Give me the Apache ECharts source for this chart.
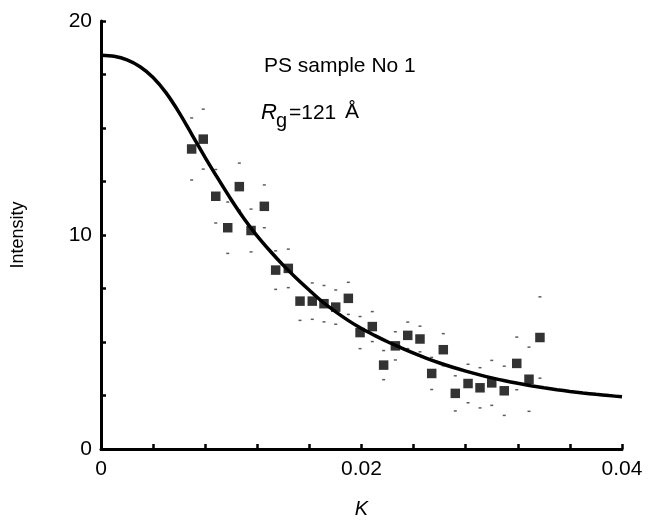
<!DOCTYPE html>
<html>
<head>
<meta charset="utf-8">
<script src="https://cdn.jsdelivr.net/npm/echarts@6/dist/echarts.min.js"></script>
<style>
html,body{margin:0;padding:0;background:#fff;}
#c{width:649px;height:524px;}
</style>
</head>
<body>
<div id="c"></div>
<script>
// Measured points: K (x) and intensity (y)
const pointK = [0.00696,0.00785,0.00881,0.00973,0.01062,0.01152,0.01254,0.01341,0.01438,0.01528,
                0.01622,0.01712,0.01802,0.01899,0.01989,0.02083,0.02170,0.02260,0.02355,0.02449,
                0.02539,0.02628,0.02720,0.02818,0.02910,0.03000,0.03096,0.03192,0.03286,0.03370];
const pointI = [14.02,14.48,11.81,10.34,12.26,10.21,11.34,8.36,8.44,6.91,
                6.91,6.79,6.63,7.04,5.44,5.72,3.92,4.82,5.31,5.14,
                3.53,4.64,2.60,3.06,2.86,3.09,2.72,4.00,3.26,5.21];
// Half-length of error bars (intensity units)
const pointErr = [1.45,1.40,1.25,1.20,1.10,1.00,1.00,0.90,0.90,0.90,
                  0.85,0.85,0.80,0.75,0.75,0.70,0.68,0.66,0.62,0.60,
                  0.75,0.75,0.82,0.90,0.94,1.05,1.15,1.23,1.50,1.90];
// Fitted curve
const curveK = [0,0.001,0.002,0.003,0.004,0.005,0.006,0.007,0.008,0.009,0.010,0.011,0.012,0.013,0.014,
                0.015,0.016,0.017,0.018,0.019,0.020,0.021,0.022,0.023,0.024,0.025,0.026,0.027,0.028,
                0.029,0.030,0.031,0.032,0.033,0.034,0.035,0.036,0.037,0.038,0.039,0.040];
const curveI = [18.4,18.35,18.18,17.86,17.36,16.64,15.72,14.67,13.62,12.62,11.65,10.75,9.95,9.24,8.58,
                7.98,7.42,6.88,6.42,6.0,5.63,5.31,5.01,4.74,4.48,4.24,4.02,3.82,3.64,
                3.475,3.325,3.19,3.07,2.96,2.86,2.77,2.69,2.62,2.555,2.495,2.44];
const xTickLabels = [0, 0.02, 0.04];
const yTickLabels = [0, 10, 20];

const FONT = 'Liberation Sans, Arial, sans-serif';
const pts = pointK.map((k,i)=>[k,pointI[i]]);
const errHi = pointK.map((k,i)=>[k,pointI[i]+pointErr[i]]);
const errLo = pointK.map((k,i)=>[k,pointI[i]-pointErr[i]]);
const curve = curveK.map((k,i)=>[k,curveI[i]]);

function pick(v, list){ return list.find(t=>Math.abs(v-t)<1e-9); }

const chart = echarts.init(document.getElementById('c'), null, {renderer:'canvas'});
chart.setOption({
  animation:false,
  backgroundColor:'#fff',
  grid:{left:101,right:27,top:21,bottom:74,containLabel:false},
  xAxis:{
    type:'value',min:0,max:0.04,interval:0.004,
    axisLine:{lineStyle:{color:'#000',width:3}},
    axisTick:{inside:true,length:5,lineStyle:{color:'#000',width:2.5}},
    splitLine:{show:false},
    axisLabel:{color:'#000',fontSize:21,fontFamily:FONT,margin:10,
      formatter:v=>{const t=pick(v,xTickLabels);return t===undefined?'':String(t);}},
    name:'K',nameLocation:'middle',nameGap:50,
    nameTextStyle:{color:'#000',fontSize:20,fontStyle:'italic',fontFamily:FONT}
  },
  yAxis:{
    type:'value',min:0,max:20,interval:2.5,
    axisLine:{lineStyle:{color:'#000',width:3}},
    axisTick:{inside:true,length:5,lineStyle:{color:'#000',width:2.5}},
    splitLine:{show:false},
    axisLabel:{color:'#000',fontSize:21,fontFamily:FONT,margin:9,
      formatter:v=>{const t=pick(v,yTickLabels);return t===undefined?'':String(t);}},
    name:'Intensity',nameLocation:'middle',nameGap:74,nameRotate:90,
    nameTextStyle:{color:'#000',fontSize:18,fontFamily:FONT}
  },
  series:[
    {type:'line',data:curve,smooth:0.3,showSymbol:false,symbol:'none',
     lineStyle:{color:'#000',width:3.5},z:3},
    {type:'scatter',data:pts,symbol:'rect',symbolSize:9.5,
     itemStyle:{color:'#000'},z:4},
    {type:'scatter',data:errHi,symbol:'rect',symbolSize:[3,1.5],
     itemStyle:{color:'#333'},z:2},
    {type:'scatter',data:errLo,symbol:'rect',symbolSize:[3,1.5],
     itemStyle:{color:'#333'},z:2}
  ],
  graphic:[
    {type:'text',left:264,top:56,style:{text:'PS sample No 1',fill:'#000',font:'21px '+FONT}},
    {type:'text',left:261,top:102,style:{text:'R',fill:'#000',font:'italic 22px '+FONT}},
    {type:'text',left:276,top:111,style:{text:'g',fill:'#000',font:'20px '+FONT}},
    {type:'text',left:289,top:103,style:{text:'=121',fill:'#000',font:'21px '+FONT}},
    {type:'text',left:345,top:102,style:{text:'Å',fill:'#000',font:'21px '+FONT}}
  ]
});
</script>
</body>
</html>
